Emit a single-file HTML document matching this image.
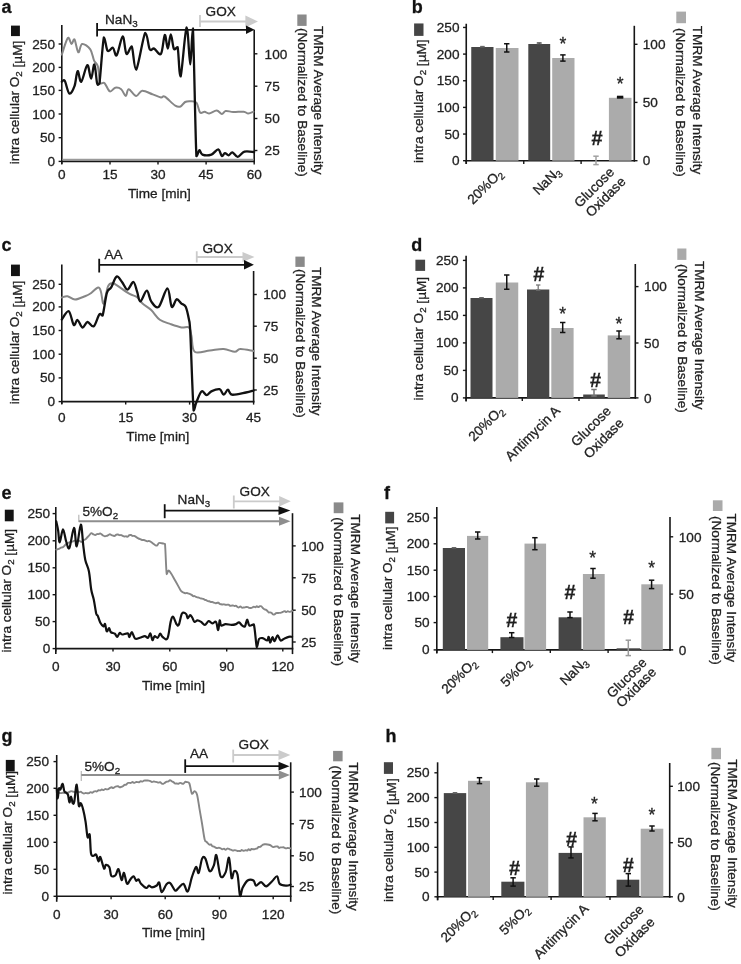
<!DOCTYPE html>
<html><head><meta charset="utf-8"><style>
html,body{margin:0;padding:0;background:#fff;width:741px;height:964px;overflow:hidden}
svg{display:block;font-family:"Liberation Sans", sans-serif;filter:blur(0.4px)}
text{stroke:#222;stroke-width:0.3px}
</style></head><body>
<svg width="741" height="964" viewBox="0 0 741 964">
<rect width="741" height="964" fill="#fff"/>
<text x="1.6" y="12.9" text-anchor="start" font-size="18" font-weight="bold" fill="#111" >a</text>
<text transform="translate(19.1,164.3) rotate(-90)" text-anchor="start" font-size="13.6" fill="#1e1e1e">intra cellular O<tspan font-size="9.79" dy="2.99">2</tspan><tspan dy="-2.99"></tspan> [µM]</text>
<rect x="11" y="25.6" width="8.9" height="10.5" fill="#141414"/>
<line x1="61.8" y1="25" x2="61.8" y2="163.9" stroke="#161616" stroke-width="1.6"/>
<line x1="58.6" y1="161.4" x2="61.8" y2="161.4" stroke="#161616" stroke-width="1.4"/>
<text x="55" y="165.97" text-anchor="end" font-size="13.6" font-weight="normal" fill="#1e1e1e" >0</text>
<line x1="58.6" y1="137.7" x2="61.8" y2="137.7" stroke="#161616" stroke-width="1.4"/>
<text x="55" y="142.27" text-anchor="end" font-size="13.6" font-weight="normal" fill="#1e1e1e" >50</text>
<line x1="58.6" y1="114" x2="61.8" y2="114" stroke="#161616" stroke-width="1.4"/>
<text x="55" y="118.57" text-anchor="end" font-size="13.6" font-weight="normal" fill="#1e1e1e" >100</text>
<line x1="58.6" y1="90.4" x2="61.8" y2="90.4" stroke="#161616" stroke-width="1.4"/>
<text x="55" y="94.97" text-anchor="end" font-size="13.6" font-weight="normal" fill="#1e1e1e" >150</text>
<line x1="58.6" y1="67.4" x2="61.8" y2="67.4" stroke="#161616" stroke-width="1.4"/>
<text x="55" y="71.97" text-anchor="end" font-size="13.6" font-weight="normal" fill="#1e1e1e" >200</text>
<line x1="58.6" y1="44" x2="61.8" y2="44" stroke="#161616" stroke-width="1.4"/>
<text x="55" y="48.57" text-anchor="end" font-size="13.6" font-weight="normal" fill="#1e1e1e" >250</text>
<line x1="61" y1="161.4" x2="255" y2="161.4" stroke="#161616" stroke-width="1.6"/>
<line x1="61.8" y1="161.4" x2="61.8" y2="164.4" stroke="#161616" stroke-width="1.4"/>
<line x1="110" y1="161.4" x2="110" y2="164.4" stroke="#161616" stroke-width="1.4"/>
<line x1="158" y1="161.4" x2="158" y2="164.4" stroke="#161616" stroke-width="1.4"/>
<line x1="206.1" y1="161.4" x2="206.1" y2="164.4" stroke="#161616" stroke-width="1.4"/>
<line x1="254.2" y1="161.4" x2="254.2" y2="164.4" stroke="#161616" stroke-width="1.4"/>
<text x="61.8" y="179.1" text-anchor="middle" font-size="13.6" font-weight="normal" fill="#1e1e1e" >0</text>
<text x="110" y="179.1" text-anchor="middle" font-size="13.6" font-weight="normal" fill="#1e1e1e" >15</text>
<text x="158" y="179.1" text-anchor="middle" font-size="13.6" font-weight="normal" fill="#1e1e1e" >30</text>
<text x="206.1" y="179.1" text-anchor="middle" font-size="13.6" font-weight="normal" fill="#1e1e1e" >45</text>
<text x="254.2" y="179.1" text-anchor="middle" font-size="13.6" font-weight="normal" fill="#1e1e1e" >60</text>
<text x="159.4" y="198.1" text-anchor="middle" font-size="13.6" font-weight="normal" fill="#1e1e1e" >Time [min]</text>
<line x1="254.2" y1="29.8" x2="254.2" y2="162.2" stroke="#161616" stroke-width="1.6"/>
<line x1="254.2" y1="150.5" x2="257.4" y2="150.5" stroke="#161616" stroke-width="1.4"/>
<text x="264.6" y="155.27" text-anchor="start" font-size="13.6" font-weight="normal" fill="#1e1e1e" >25</text>
<line x1="254.2" y1="118.5" x2="257.4" y2="118.5" stroke="#161616" stroke-width="1.4"/>
<text x="264.6" y="123.27" text-anchor="start" font-size="13.6" font-weight="normal" fill="#1e1e1e" >50</text>
<line x1="254.2" y1="86.2" x2="257.4" y2="86.2" stroke="#161616" stroke-width="1.4"/>
<text x="264.6" y="90.97" text-anchor="start" font-size="13.6" font-weight="normal" fill="#1e1e1e" >75</text>
<line x1="254.2" y1="53.8" x2="257.4" y2="53.8" stroke="#161616" stroke-width="1.4"/>
<text x="264.6" y="58.57" text-anchor="start" font-size="13.6" font-weight="normal" fill="#1e1e1e" >100</text>
<text transform="translate(314,25.9) rotate(90)" text-anchor="start" font-size="13.6" fill="#1e1e1e">TMRM Average Intensity</text>
<text transform="translate(297.5,28) rotate(90)" text-anchor="start" font-size="13.6" fill="#1e1e1e">(Normalized to Baseline)</text>
<rect x="297.3" y="14.5" width="9.3" height="11.4" fill="#8a8a8a"/>
<line x1="62.5" y1="159.6" x2="253.5" y2="159.6" stroke="#9a9a9a" stroke-width="1.6"/>
<line x1="200" y1="15" x2="200" y2="27" stroke="#cbcbcb" stroke-width="1.8"/>
<line x1="200" y1="21.5" x2="246.4" y2="21.5" stroke="#cbcbcb" stroke-width="1.8"/>
<polygon points="245.4,15.5 258,21.5 245.4,27.5" fill="#cbcbcb"/>
<line x1="97.1" y1="23" x2="97.1" y2="36.5" stroke="#111" stroke-width="1.8"/>
<line x1="97.1" y1="29.8" x2="247" y2="29.8" stroke="#111" stroke-width="1.8"/>
<polygon points="246,25.6 254.5,29.8 246,34" fill="#111"/>
<text x="105" y="23.9" text-anchor="start" font-size="13.6" font-weight="normal" fill="#1e1e1e" >NaN<tspan font-size="9.79" dy="2.99">3</tspan><tspan dy="-2.99"></tspan></text>
<text x="205.6" y="16.2" text-anchor="start" font-size="13.6" font-weight="normal" fill="#1e1e1e" >GOX</text>
<path d="M61.8,54.6 C62.8,51.83 66.18,39.77 67.8,38 C69.42,36.23 70.38,43.75 71.5,44 C72.62,44.25 73.37,38.12 74.5,39.5 C75.63,40.88 77.03,51.55 78.3,52.3 C79.57,53.05 80.1,44.5 82.1,44 C84.1,43.5 88.3,46.53 90.3,49.3 C92.3,52.07 92.83,57.72 94.1,60.6 C95.37,63.48 96.9,62.97 97.9,66.6 C98.9,70.23 98.98,79.63 100.1,82.4 C101.22,85.17 102.97,81.7 104.6,83.2 C106.23,84.7 108.13,90.65 109.9,91.4 C111.67,92.15 113.32,88.07 115.2,87.7 C117.08,87.33 119.45,87.83 121.2,89.2 C122.95,90.57 124.45,95.9 125.7,95.9 C126.95,95.9 126.95,89.2 128.7,89.2 C130.45,89.2 133.95,95.65 136.2,95.9 C138.45,96.15 139.45,90.95 142.2,90.7 C144.95,90.45 149.57,93.28 152.7,94.4 C155.83,95.52 158.98,97.02 161,97.4 C163.02,97.78 162.42,95.32 164.8,96.7 C167.18,98.08 172.67,104.07 175.3,105.7 C177.93,107.33 178.97,107.12 180.6,106.5 C182.23,105.88 183.48,102.88 185.1,102 C186.72,101.12 188.42,101.08 190.3,101.2 C192.18,101.32 194.77,100.82 196.4,102.7 C198.03,104.58 198.73,111 200.1,112.5 C201.47,114 203.1,111.53 204.6,111.7 C206.1,111.87 207.08,113.7 209.1,113.5 C211.12,113.3 214.57,110.42 216.7,110.5 C218.83,110.58 220.4,113.92 221.9,114 C223.4,114.08 223.82,111.33 225.7,111 C227.58,110.67 230.2,111.88 233.2,112 C236.2,112.12 241.2,111.45 243.7,111.7 C246.2,111.95 246.57,113.5 248.2,113.5 C249.83,113.5 252.62,112 253.5,111.7" fill="none" stroke="#868686" stroke-width="2.0" stroke-linejoin="round" stroke-linecap="round"/>
<path d="M61.8,81.7 C62.3,81.57 63.55,78.95 64.8,80.9 C66.05,82.85 67.68,92.52 69.3,93.4 C70.92,94.28 73.12,89.92 74.5,86.2 C75.88,82.48 76.47,71.85 77.6,71.1 C78.73,70.35 79.68,82.7 81.3,81.7 C82.92,80.7 85.67,65.62 87.3,65.1 C88.93,64.58 89.92,78.72 91.1,78.6 C92.28,78.48 93.4,63.63 94.4,64.4 C95.4,65.17 96.27,79.95 97.1,83.2 C97.93,86.45 98.27,83.9 99.4,83.9 C100.53,76.25 102.53,42.82 103.9,37.3 C105.27,37.3 106.1,49.05 107.6,50.8 C109.1,52.55 111.38,47.05 112.9,47.8 C114.42,48.55 115.07,57.18 116.7,55.3 C118.33,53.42 121.08,36.75 122.7,36.5 C124.32,36.25 124.9,52.17 126.4,53.8 C127.9,55.43 130.07,46.3 131.7,46.3 C133.33,48.93 133.95,69.6 136.2,69.6 C138.45,67.35 142.95,36.18 145.2,32.8 C147.45,32.8 148.2,46.67 149.7,49.3 C151.2,51.93 152.32,47.85 154.2,48.6 C156.08,49.35 159.23,56.07 161,53.8 C162.77,51.53 163.67,35.87 164.8,35 C165.93,34.13 166.8,48.72 167.8,48.6 C168.8,48.48 169.8,34.3 170.8,34.3 C171.8,34.3 172.67,46.47 173.8,48.6 C174.93,50.73 176.47,47.1 177.6,47.1 C178.73,51.73 179.1,76.4 180.6,76.4 C182.1,73.13 184.98,29.5 186.6,27.5 C188.22,27.5 189.25,64.27 190.3,64.4 C191.35,64.4 191.88,28.3 192.9,28.3 C193.92,43.58 195.32,135.8 196.4,156.1 C197.48,156.1 198.4,150.35 199.4,150.1 C200.4,149.85 200.4,153.85 202.4,154.6 C204.4,155.35 208.77,155.48 211.4,154.6 C214.03,153.72 216.45,149.05 218.2,149.3 C219.95,149.55 220.78,155.47 221.9,156.1 C223.02,156.73 223.77,153.23 224.9,153.1 C226.03,152.97 227.45,155.43 228.7,155.3 C229.95,155.17 230.9,152.05 232.4,152.3 C233.9,152.55 235.68,156.92 237.7,156.8 C239.72,156.68 241.75,152.4 244.5,151.6 C247.25,150.8 252.58,151.93 254.2,152" fill="none" stroke="#111" stroke-width="2.3" stroke-linejoin="round" stroke-linecap="round"/>
<text x="411.8" y="12.9" text-anchor="start" font-size="18" font-weight="bold" fill="#111" >b</text>
<text transform="translate(422.9,163) rotate(-90)" text-anchor="start" font-size="13.6" fill="#1e1e1e">intra cellular O<tspan font-size="9.79" dy="2.99">2</tspan><tspan dy="-2.99"></tspan> [µM]</text>
<rect x="414.1" y="23.45" width="9.4" height="12.45" fill="#454545"/>
<line x1="466.25" y1="23.75" x2="466.25" y2="161.5" stroke="#161616" stroke-width="1.6"/>
<line x1="463.05" y1="160.7" x2="466.25" y2="160.7" stroke="#161616" stroke-width="1.4"/>
<text x="459.5" y="165.27" text-anchor="end" font-size="13.6" font-weight="normal" fill="#1e1e1e" >0</text>
<line x1="463.05" y1="134.05" x2="466.25" y2="134.05" stroke="#161616" stroke-width="1.4"/>
<text x="459.5" y="138.62" text-anchor="end" font-size="13.6" font-weight="normal" fill="#1e1e1e" >50</text>
<line x1="463.05" y1="107.4" x2="466.25" y2="107.4" stroke="#161616" stroke-width="1.4"/>
<text x="459.5" y="111.97" text-anchor="end" font-size="13.6" font-weight="normal" fill="#1e1e1e" >100</text>
<line x1="463.05" y1="80.75" x2="466.25" y2="80.75" stroke="#161616" stroke-width="1.4"/>
<text x="459.5" y="85.32" text-anchor="end" font-size="13.6" font-weight="normal" fill="#1e1e1e" >150</text>
<line x1="463.05" y1="54.1" x2="466.25" y2="54.1" stroke="#161616" stroke-width="1.4"/>
<text x="459.5" y="58.67" text-anchor="end" font-size="13.6" font-weight="normal" fill="#1e1e1e" >200</text>
<line x1="463.05" y1="27.45" x2="466.25" y2="27.45" stroke="#161616" stroke-width="1.4"/>
<text x="459.5" y="32.02" text-anchor="end" font-size="13.6" font-weight="normal" fill="#1e1e1e" >250</text>
<line x1="465.45" y1="160.7" x2="635.1" y2="160.7" stroke="#161616" stroke-width="1.6"/>
<line x1="466.25" y1="160.7" x2="466.25" y2="163.9" stroke="#161616" stroke-width="1.4"/>
<line x1="523.75" y1="160.7" x2="523.75" y2="163.9" stroke="#161616" stroke-width="1.4"/>
<line x1="581.1" y1="160.7" x2="581.1" y2="163.9" stroke="#161616" stroke-width="1.4"/>
<line x1="466.25" y1="160.7" x2="466.25" y2="164" stroke="#161616" stroke-width="1.6"/>
<line x1="634.3" y1="25.8" x2="634.3" y2="161.5" stroke="#161616" stroke-width="1.6"/>
<line x1="634.3" y1="160.7" x2="637.5" y2="160.7" stroke="#161616" stroke-width="1.4"/>
<text x="642.8" y="165.47" text-anchor="start" font-size="13.6" font-weight="normal" fill="#1e1e1e" >0</text>
<line x1="634.3" y1="102.4" x2="637.5" y2="102.4" stroke="#161616" stroke-width="1.4"/>
<text x="642.8" y="107.17" text-anchor="start" font-size="13.6" font-weight="normal" fill="#1e1e1e" >50</text>
<line x1="634.3" y1="44.3" x2="637.5" y2="44.3" stroke="#161616" stroke-width="1.4"/>
<text x="642.8" y="49.07" text-anchor="start" font-size="13.6" font-weight="normal" fill="#1e1e1e" >100</text>
<text transform="translate(692.6,25.8) rotate(90)" text-anchor="start" font-size="13.6" fill="#1e1e1e">TMRM Average Intensity</text>
<text transform="translate(675.6,28) rotate(90)" text-anchor="start" font-size="13.6" fill="#1e1e1e">(Normalized to Baseline)</text>
<rect x="676.3" y="11.6" width="9.7" height="11.6" fill="#aaaaaa"/>
<rect x="471.25" y="47" width="22.25" height="113.7" fill="#464646"/>
<line x1="482.4" y1="46.4" x2="482.4" y2="47" stroke="#666" stroke-width="1.1"/>
<line x1="480.2" y1="46.4" x2="484.6" y2="46.4" stroke="#666" stroke-width="1.1"/>
<line x1="480.2" y1="47" x2="484.6" y2="47" stroke="#666" stroke-width="1.1"/>
<rect x="495.75" y="48" width="22.75" height="112.7" fill="#ababab"/>
<line x1="506.75" y1="43.75" x2="506.75" y2="52" stroke="#111" stroke-width="1.5"/>
<line x1="504.05" y1="43.75" x2="509.45" y2="43.75" stroke="#111" stroke-width="1.5"/>
<line x1="504.05" y1="52" x2="509.45" y2="52" stroke="#111" stroke-width="1.5"/>
<rect x="528.3" y="44" width="21.9" height="116.7" fill="#464646"/>
<line x1="539.2" y1="42.8" x2="539.2" y2="44" stroke="#555" stroke-width="1.2"/>
<line x1="536.8" y1="42.8" x2="541.6" y2="42.8" stroke="#555" stroke-width="1.2"/>
<line x1="536.8" y1="44" x2="541.6" y2="44" stroke="#555" stroke-width="1.2"/>
<rect x="552.2" y="58" width="22.3" height="102.7" fill="#ababab"/>
<line x1="562.9" y1="54.9" x2="562.9" y2="61.1" stroke="#111" stroke-width="1.5"/>
<line x1="560.2" y1="54.9" x2="565.6" y2="54.9" stroke="#111" stroke-width="1.5"/>
<line x1="560.2" y1="61.1" x2="565.6" y2="61.1" stroke="#111" stroke-width="1.5"/>
<text x="562.9" y="50.3" text-anchor="middle" font-size="17.5" font-weight="normal" fill="#1e1e1e" >*</text>
<line x1="596" y1="156.2" x2="596" y2="164.6" stroke="#a0a0a0" stroke-width="1.5"/>
<line x1="593.3" y1="156.2" x2="598.7" y2="156.2" stroke="#a0a0a0" stroke-width="1.5"/>
<line x1="593.3" y1="164.6" x2="598.7" y2="164.6" stroke="#a0a0a0" stroke-width="1.5"/>
<text x="597" y="145.4" text-anchor="middle" font-size="20" font-weight="bold" fill="#1e1e1e" >#</text>
<rect x="608.9" y="97.8" width="22.6" height="62.9" fill="#ababab"/>
<line x1="620.1" y1="96.6" x2="620.1" y2="97.8" stroke="#111" stroke-width="1.8"/>
<line x1="616.9" y1="96.6" x2="623.3" y2="96.6" stroke="#111" stroke-width="1.8"/>
<line x1="616.9" y1="97.8" x2="623.3" y2="97.8" stroke="#111" stroke-width="1.8"/>
<text x="620.1" y="90.3" text-anchor="middle" font-size="17.5" font-weight="normal" fill="#1e1e1e" >*</text>
<text transform="translate(503.5,174.5) rotate(-45)" text-anchor="end" font-size="13.6" fill="#1e1e1e">20%O<tspan font-size="9.79" dy="2.99">2</tspan><tspan dy="-2.99"></tspan></text>
<text transform="translate(561.5,172.5) rotate(-45)" text-anchor="end" font-size="13.6" fill="#1e1e1e">NaN<tspan font-size="9.79" dy="2.99">3</tspan><tspan dy="-2.99"></tspan></text>
<text transform="translate(615,173) rotate(-45)" text-anchor="end" font-size="13.6" fill="#1e1e1e">Glucose</text>
<text transform="translate(626.5,182.5) rotate(-45)" text-anchor="end" font-size="13.6" fill="#1e1e1e">Oxidase</text>
<text x="1.6" y="251.3" text-anchor="start" font-size="18" font-weight="bold" fill="#111" >c</text>
<text transform="translate(19.1,404.3) rotate(-90)" text-anchor="start" font-size="13.6" fill="#1e1e1e">intra cellular O<tspan font-size="9.79" dy="2.99">2</tspan><tspan dy="-2.99"></tspan> [µM]</text>
<rect x="11" y="264.6" width="8.9" height="11.5" fill="#141414"/>
<line x1="61.8" y1="264.5" x2="61.8" y2="404.1" stroke="#161616" stroke-width="1.6"/>
<line x1="58.6" y1="401.6" x2="61.8" y2="401.6" stroke="#161616" stroke-width="1.4"/>
<text x="55" y="406.17" text-anchor="end" font-size="13.6" font-weight="normal" fill="#1e1e1e" >0</text>
<line x1="58.6" y1="377.9" x2="61.8" y2="377.9" stroke="#161616" stroke-width="1.4"/>
<text x="55" y="382.47" text-anchor="end" font-size="13.6" font-weight="normal" fill="#1e1e1e" >50</text>
<line x1="58.6" y1="354.2" x2="61.8" y2="354.2" stroke="#161616" stroke-width="1.4"/>
<text x="55" y="358.77" text-anchor="end" font-size="13.6" font-weight="normal" fill="#1e1e1e" >100</text>
<line x1="58.6" y1="330.5" x2="61.8" y2="330.5" stroke="#161616" stroke-width="1.4"/>
<text x="55" y="335.07" text-anchor="end" font-size="13.6" font-weight="normal" fill="#1e1e1e" >150</text>
<line x1="58.6" y1="306.9" x2="61.8" y2="306.9" stroke="#161616" stroke-width="1.4"/>
<text x="55" y="311.47" text-anchor="end" font-size="13.6" font-weight="normal" fill="#1e1e1e" >200</text>
<line x1="58.6" y1="284.3" x2="61.8" y2="284.3" stroke="#161616" stroke-width="1.4"/>
<text x="55" y="288.87" text-anchor="end" font-size="13.6" font-weight="normal" fill="#1e1e1e" >250</text>
<line x1="61" y1="401.6" x2="254.4" y2="401.6" stroke="#161616" stroke-width="1.6"/>
<line x1="61.8" y1="401.6" x2="61.8" y2="404.6" stroke="#161616" stroke-width="1.4"/>
<line x1="125.7" y1="401.6" x2="125.7" y2="404.6" stroke="#161616" stroke-width="1.4"/>
<line x1="189.6" y1="401.6" x2="189.6" y2="404.6" stroke="#161616" stroke-width="1.4"/>
<line x1="253.6" y1="401.6" x2="253.6" y2="404.6" stroke="#161616" stroke-width="1.4"/>
<text x="61.8" y="422.1" text-anchor="middle" font-size="13.6" font-weight="normal" fill="#1e1e1e" >0</text>
<text x="125.7" y="422.1" text-anchor="middle" font-size="13.6" font-weight="normal" fill="#1e1e1e" >15</text>
<text x="189.6" y="422.1" text-anchor="middle" font-size="13.6" font-weight="normal" fill="#1e1e1e" >30</text>
<text x="253.6" y="422.1" text-anchor="middle" font-size="13.6" font-weight="normal" fill="#1e1e1e" >45</text>
<text x="157.8" y="441" text-anchor="middle" font-size="13.6" font-weight="normal" fill="#1e1e1e" >Time [min]</text>
<line x1="253.6" y1="271" x2="253.6" y2="402.4" stroke="#161616" stroke-width="1.6"/>
<line x1="253.6" y1="390" x2="256.8" y2="390" stroke="#161616" stroke-width="1.4"/>
<text x="263.3" y="394.77" text-anchor="start" font-size="13.6" font-weight="normal" fill="#1e1e1e" >25</text>
<line x1="253.6" y1="358.2" x2="256.8" y2="358.2" stroke="#161616" stroke-width="1.4"/>
<text x="263.3" y="362.97" text-anchor="start" font-size="13.6" font-weight="normal" fill="#1e1e1e" >50</text>
<line x1="253.6" y1="326.2" x2="256.8" y2="326.2" stroke="#161616" stroke-width="1.4"/>
<text x="263.3" y="330.97" text-anchor="start" font-size="13.6" font-weight="normal" fill="#1e1e1e" >75</text>
<line x1="253.6" y1="294.5" x2="256.8" y2="294.5" stroke="#161616" stroke-width="1.4"/>
<text x="263.3" y="299.27" text-anchor="start" font-size="13.6" font-weight="normal" fill="#1e1e1e" >100</text>
<text transform="translate(312.2,266.9) rotate(90)" text-anchor="start" font-size="13.6" fill="#1e1e1e">TMRM Average Intensity</text>
<text transform="translate(295.6,269) rotate(90)" text-anchor="start" font-size="13.6" fill="#1e1e1e">(Normalized to Baseline)</text>
<rect x="295.4" y="256.6" width="9.3" height="10.3" fill="#8a8a8a"/>
<line x1="196.75" y1="251.25" x2="196.75" y2="262.5" stroke="#cbcbcb" stroke-width="1.8"/>
<line x1="196.75" y1="257" x2="243.5" y2="257" stroke="#cbcbcb" stroke-width="1.8"/>
<polygon points="242.5,252 254.5,257 242.5,262" fill="#cbcbcb"/>
<line x1="99.2" y1="258.75" x2="99.2" y2="272.5" stroke="#111" stroke-width="1.8"/>
<line x1="99.2" y1="264.8" x2="245" y2="264.8" stroke="#111" stroke-width="1.8"/>
<polygon points="244,260 253.9,264.8 244,269.6" fill="#111"/>
<text x="104.5" y="259" text-anchor="start" font-size="13.6" font-weight="normal" fill="#1e1e1e" >AA</text>
<text x="202.5" y="252.8" text-anchor="start" font-size="13.6" font-weight="normal" fill="#1e1e1e" >GOX</text>
<path d="M61.75,297.5 C62.71,297.29 65.29,295.92 67.5,296.25 C69.71,296.58 72.08,299.5 75,299.5 C77.92,299.5 82.5,297.21 85,296.25 C87.5,295.29 87.8,295.23 90,293.75 C92.2,292.27 96.37,287.69 98.2,287.4 C100.03,287.11 100.1,289.3 101,292 C101.9,294.7 102.43,304.55 103.6,303.6 C104.77,302.65 106.55,289.72 108,286.3 C109.45,282.88 110.87,283.28 112.3,283.1 C113.73,282.92 113.72,283.4 116.6,285.2 C119.48,287 126.18,291.92 129.6,293.9 C133.02,295.88 134.95,295.48 137.1,297.1 C139.25,298.72 140.15,301.43 142.5,303.6 C144.85,305.77 148.32,307.4 151.2,310.1 C154.08,312.8 156.57,317.47 159.8,319.8 C163.03,322.13 167,322.83 170.6,324.1 C174.2,325.37 178.33,326.85 181.4,327.4 C184.47,327.95 187.32,325.97 189,327.4 C190.68,328.83 190.55,331.93 191.5,336 C192.45,340.07 191.63,349.4 194.7,351.8 C197.77,354.2 205.07,350.87 209.9,350.4 C214.73,349.93 219.55,348.77 223.7,349 C227.85,349.23 232.03,351.8 234.8,351.8 C237.57,351.8 237.17,349.13 240.3,349 C243.43,348.87 251.38,350.67 253.6,351" fill="none" stroke="#868686" stroke-width="2.0" stroke-linejoin="round" stroke-linecap="round"/>
<path d="M61.75,319.5 C62.92,318.12 66.75,310.33 68.75,311.25 C70.75,312.17 72.29,323.54 73.75,325 C75.21,326.46 76.04,319.58 77.5,320 C78.96,320.42 80.83,327.17 82.5,327.5 C84.17,327.83 85.62,322.21 87.5,322 C89.38,321.79 91.78,327.52 93.75,326.25 C95.72,324.98 97.83,316.19 99.3,314.4 C100.77,312.61 101.33,315.5 102.6,315.5 C103.87,311.9 105.47,297.48 106.9,292.8 C108.33,288.12 109.58,290.1 111.2,287.4 C112.82,284.7 114.8,277.5 116.6,276.6 C118.4,275.7 120.2,279.83 122,282 C123.8,284.17 125.5,289.6 127.4,289.6 C129.3,289.6 131.78,281.65 133.4,282 C135.02,282.35 135.93,288.47 137.1,291.7 C138.27,294.93 138.78,301.58 140.4,301.4 C142.02,301.22 145,290.6 146.8,290.6 C148.6,290.6 149.22,298.7 151.2,301.4 C153.18,304.1 156,308.95 158.7,306.8 C161.4,304.65 165.23,288.5 167.4,288.5 C169.57,288.5 170.17,305 171.7,306.8 C173.23,308.6 174.98,299.83 176.6,299.3 C178.22,298.77 179.88,302.35 181.4,303.6 C182.92,304.85 184.43,304.1 185.7,306.8 C186.97,309.5 188.25,315.93 189,319.8 C189.75,323.67 189.43,319.8 190.2,330 C190.97,345.12 192.62,398.33 193.6,410.5 C194.58,410.5 194.77,406.18 196.1,403 C197.43,399.82 199.85,392.7 201.6,391.4 C203.35,390.1 204.98,395.2 206.6,395.2 C208.22,395.2 209.13,392.4 211.3,391.4 C213.47,390.4 217.53,388.65 219.6,389.2 C221.67,389.75 222.32,394.62 223.7,394.7 C225.08,394.78 226.52,389.7 227.9,389.7 C229.28,389.7 229,394.23 232,394.7 C235,395.17 242.3,393.2 245.9,392.5 C249.5,391.8 252.32,390.83 253.6,390.5" fill="none" stroke="#111" stroke-width="2.3" stroke-linejoin="round" stroke-linecap="round"/>
<text x="411.2" y="250.9" text-anchor="start" font-size="18" font-weight="bold" fill="#111" >d</text>
<text transform="translate(422.9,400.5) rotate(-90)" text-anchor="start" font-size="13.6" fill="#1e1e1e">intra cellular O<tspan font-size="9.79" dy="2.99">2</tspan><tspan dy="-2.99"></tspan> [µM]</text>
<rect x="415.4" y="259.7" width="9.7" height="11.2" fill="#454545"/>
<line x1="466.1" y1="255.8" x2="466.1" y2="398.7" stroke="#161616" stroke-width="1.6"/>
<line x1="462.9" y1="397.9" x2="466.1" y2="397.9" stroke="#161616" stroke-width="1.4"/>
<text x="458.6" y="402.47" text-anchor="end" font-size="13.6" font-weight="normal" fill="#1e1e1e" >0</text>
<line x1="462.9" y1="370.4" x2="466.1" y2="370.4" stroke="#161616" stroke-width="1.4"/>
<text x="458.6" y="374.97" text-anchor="end" font-size="13.6" font-weight="normal" fill="#1e1e1e" >50</text>
<line x1="462.9" y1="342.9" x2="466.1" y2="342.9" stroke="#161616" stroke-width="1.4"/>
<text x="458.6" y="347.47" text-anchor="end" font-size="13.6" font-weight="normal" fill="#1e1e1e" >100</text>
<line x1="462.9" y1="315.4" x2="466.1" y2="315.4" stroke="#161616" stroke-width="1.4"/>
<text x="458.6" y="319.97" text-anchor="end" font-size="13.6" font-weight="normal" fill="#1e1e1e" >150</text>
<line x1="462.9" y1="287.9" x2="466.1" y2="287.9" stroke="#161616" stroke-width="1.4"/>
<text x="458.6" y="292.47" text-anchor="end" font-size="13.6" font-weight="normal" fill="#1e1e1e" >200</text>
<line x1="462.9" y1="260.4" x2="466.1" y2="260.4" stroke="#161616" stroke-width="1.4"/>
<text x="458.6" y="264.97" text-anchor="end" font-size="13.6" font-weight="normal" fill="#1e1e1e" >250</text>
<line x1="465.3" y1="397.9" x2="636.1" y2="397.9" stroke="#161616" stroke-width="1.6"/>
<line x1="466.1" y1="397.9" x2="466.1" y2="401.1" stroke="#161616" stroke-width="1.4"/>
<line x1="522.3" y1="397.9" x2="522.3" y2="401.1" stroke="#161616" stroke-width="1.4"/>
<line x1="579" y1="397.9" x2="579" y2="401.1" stroke="#161616" stroke-width="1.4"/>
<line x1="466.1" y1="397.9" x2="466.1" y2="401.5" stroke="#161616" stroke-width="1.6"/>
<line x1="635.3" y1="264" x2="635.3" y2="398.7" stroke="#161616" stroke-width="1.6"/>
<line x1="635.3" y1="397.9" x2="638.5" y2="397.9" stroke="#161616" stroke-width="1.4"/>
<text x="644.1" y="402.67" text-anchor="start" font-size="13.6" font-weight="normal" fill="#1e1e1e" >0</text>
<line x1="635.3" y1="343" x2="638.5" y2="343" stroke="#161616" stroke-width="1.4"/>
<text x="644.1" y="347.77" text-anchor="start" font-size="13.6" font-weight="normal" fill="#1e1e1e" >50</text>
<line x1="635.3" y1="286.6" x2="638.5" y2="286.6" stroke="#161616" stroke-width="1.4"/>
<text x="644.1" y="291.37" text-anchor="start" font-size="13.6" font-weight="normal" fill="#1e1e1e" >100</text>
<text transform="translate(694.7,260.9) rotate(90)" text-anchor="start" font-size="13.6" fill="#1e1e1e">TMRM Average Intensity</text>
<text transform="translate(677.7,264) rotate(90)" text-anchor="start" font-size="13.6" fill="#1e1e1e">(Normalized to Baseline)</text>
<rect x="677.3" y="248.5" width="9.1" height="11.4" fill="#aaaaaa"/>
<rect x="470.5" y="298" width="22" height="99.9" fill="#464646"/>
<line x1="481.5" y1="297.6" x2="481.5" y2="298" stroke="#666" stroke-width="1.1"/>
<line x1="479.3" y1="297.6" x2="483.7" y2="297.6" stroke="#666" stroke-width="1.1"/>
<line x1="479.3" y1="298" x2="483.7" y2="298" stroke="#666" stroke-width="1.1"/>
<rect x="495.75" y="282.5" width="22.5" height="115.4" fill="#ababab"/>
<line x1="506.75" y1="275" x2="506.75" y2="289.25" stroke="#111" stroke-width="1.5"/>
<line x1="504.05" y1="275" x2="509.45" y2="275" stroke="#111" stroke-width="1.5"/>
<line x1="504.05" y1="289.25" x2="509.45" y2="289.25" stroke="#111" stroke-width="1.5"/>
<rect x="527" y="289.5" width="22.3" height="108.4" fill="#464646"/>
<line x1="538.2" y1="285" x2="538.2" y2="290" stroke="#777" stroke-width="1.3"/>
<line x1="536" y1="285" x2="540.4" y2="285" stroke="#777" stroke-width="1.3"/>
<line x1="536" y1="290" x2="540.4" y2="290" stroke="#777" stroke-width="1.3"/>
<text x="538.75" y="281.2" text-anchor="middle" font-size="20" font-weight="bold" fill="#1e1e1e" >#</text>
<rect x="551.3" y="328" width="22.3" height="69.9" fill="#ababab"/>
<line x1="562.7" y1="322.5" x2="562.7" y2="332.5" stroke="#111" stroke-width="1.5"/>
<line x1="560" y1="322.5" x2="565.4" y2="322.5" stroke="#111" stroke-width="1.5"/>
<line x1="560" y1="332.5" x2="565.4" y2="332.5" stroke="#111" stroke-width="1.5"/>
<text x="562.7" y="320.3" text-anchor="middle" font-size="17.5" font-weight="normal" fill="#1e1e1e" >*</text>
<rect x="583.2" y="394.5" width="21.6" height="3.4" fill="#464646"/>
<line x1="594" y1="389.5" x2="594" y2="396" stroke="#777" stroke-width="1.5"/>
<line x1="591.3" y1="389.5" x2="596.7" y2="389.5" stroke="#777" stroke-width="1.5"/>
<line x1="591.3" y1="396" x2="596.7" y2="396" stroke="#777" stroke-width="1.5"/>
<text x="595.5" y="387.4" text-anchor="middle" font-size="20" font-weight="bold" fill="#1e1e1e" >#</text>
<rect x="607.7" y="335.4" width="22.5" height="62.5" fill="#ababab"/>
<line x1="619" y1="331" x2="619" y2="338.8" stroke="#111" stroke-width="1.5"/>
<line x1="616.3" y1="331" x2="621.7" y2="331" stroke="#111" stroke-width="1.5"/>
<line x1="616.3" y1="338.8" x2="621.7" y2="338.8" stroke="#111" stroke-width="1.5"/>
<text x="619" y="329.6" text-anchor="middle" font-size="17.5" font-weight="normal" fill="#1e1e1e" >*</text>
<text transform="translate(504.5,411.5) rotate(-45)" text-anchor="end" font-size="13.6" fill="#1e1e1e">20%O<tspan font-size="9.79" dy="2.99">2</tspan><tspan dy="-2.99"></tspan></text>
<text transform="translate(561,411.5) rotate(-45)" text-anchor="end" font-size="13.6" fill="#1e1e1e">Antimycin A</text>
<text transform="translate(611.8,412) rotate(-45)" text-anchor="end" font-size="13.6" fill="#1e1e1e">Glucose</text>
<text transform="translate(624.5,424) rotate(-45)" text-anchor="end" font-size="13.6" fill="#1e1e1e">Oxidase</text>
<text x="1.6" y="498.5" text-anchor="start" font-size="18" font-weight="bold" fill="#111" >e</text>
<text transform="translate(11.4,652.5) rotate(-90)" text-anchor="start" font-size="13.6" fill="#1e1e1e">intra cellular O<tspan font-size="9.79" dy="2.99">2</tspan><tspan dy="-2.99"></tspan> [µM]</text>
<rect x="4.8" y="509.7" width="8.9" height="11.6" fill="#141414"/>
<line x1="55.8" y1="506.9" x2="55.8" y2="654.1" stroke="#161616" stroke-width="1.6"/>
<line x1="52.6" y1="648.6" x2="55.8" y2="648.6" stroke="#161616" stroke-width="1.4"/>
<text x="50.2" y="653.17" text-anchor="end" font-size="13.6" font-weight="normal" fill="#1e1e1e" >0</text>
<line x1="52.6" y1="621.6" x2="55.8" y2="621.6" stroke="#161616" stroke-width="1.4"/>
<text x="50.2" y="626.17" text-anchor="end" font-size="13.6" font-weight="normal" fill="#1e1e1e" >50</text>
<line x1="52.6" y1="594.7" x2="55.8" y2="594.7" stroke="#161616" stroke-width="1.4"/>
<text x="50.2" y="599.27" text-anchor="end" font-size="13.6" font-weight="normal" fill="#1e1e1e" >100</text>
<line x1="52.6" y1="567.8" x2="55.8" y2="567.8" stroke="#161616" stroke-width="1.4"/>
<text x="50.2" y="572.37" text-anchor="end" font-size="13.6" font-weight="normal" fill="#1e1e1e" >150</text>
<line x1="52.6" y1="540.8" x2="55.8" y2="540.8" stroke="#161616" stroke-width="1.4"/>
<text x="50.2" y="545.37" text-anchor="end" font-size="13.6" font-weight="normal" fill="#1e1e1e" >200</text>
<line x1="52.6" y1="513.6" x2="55.8" y2="513.6" stroke="#161616" stroke-width="1.4"/>
<text x="50.2" y="518.17" text-anchor="end" font-size="13.6" font-weight="normal" fill="#1e1e1e" >250</text>
<line x1="55" y1="648.6" x2="293.3" y2="648.6" stroke="#161616" stroke-width="1.6"/>
<line x1="55.8" y1="648.6" x2="55.8" y2="651.6" stroke="#161616" stroke-width="1.4"/>
<line x1="113" y1="648.6" x2="113" y2="651.6" stroke="#161616" stroke-width="1.4"/>
<line x1="169.8" y1="648.6" x2="169.8" y2="651.6" stroke="#161616" stroke-width="1.4"/>
<line x1="226.7" y1="648.6" x2="226.7" y2="651.6" stroke="#161616" stroke-width="1.4"/>
<line x1="282.8" y1="648.6" x2="282.8" y2="651.6" stroke="#161616" stroke-width="1.4"/>
<text x="55.8" y="670.9" text-anchor="middle" font-size="13.6" font-weight="normal" fill="#1e1e1e" >0</text>
<text x="113" y="670.9" text-anchor="middle" font-size="13.6" font-weight="normal" fill="#1e1e1e" >30</text>
<text x="169.8" y="670.9" text-anchor="middle" font-size="13.6" font-weight="normal" fill="#1e1e1e" >60</text>
<text x="226.7" y="670.9" text-anchor="middle" font-size="13.6" font-weight="normal" fill="#1e1e1e" >90</text>
<text x="282.8" y="670.9" text-anchor="middle" font-size="13.6" font-weight="normal" fill="#1e1e1e" >120</text>
<text x="173.5" y="690.2" text-anchor="middle" font-size="13.6" font-weight="normal" fill="#1e1e1e" >Time [min]</text>
<line x1="292.5" y1="513.2" x2="292.5" y2="654.1" stroke="#161616" stroke-width="1.6"/>
<line x1="292.5" y1="642" x2="295.7" y2="642" stroke="#161616" stroke-width="1.4"/>
<text x="301.2" y="646.77" text-anchor="start" font-size="13.6" font-weight="normal" fill="#1e1e1e" >25</text>
<line x1="292.5" y1="610.2" x2="295.7" y2="610.2" stroke="#161616" stroke-width="1.4"/>
<text x="301.2" y="614.97" text-anchor="start" font-size="13.6" font-weight="normal" fill="#1e1e1e" >50</text>
<line x1="292.5" y1="577.8" x2="295.7" y2="577.8" stroke="#161616" stroke-width="1.4"/>
<text x="301.2" y="582.57" text-anchor="start" font-size="13.6" font-weight="normal" fill="#1e1e1e" >75</text>
<line x1="292.5" y1="545.9" x2="295.7" y2="545.9" stroke="#161616" stroke-width="1.4"/>
<text x="301.2" y="550.67" text-anchor="start" font-size="13.6" font-weight="normal" fill="#1e1e1e" >100</text>
<text transform="translate(350.9,514.2) rotate(90)" text-anchor="start" font-size="13.6" fill="#1e1e1e">TMRM Average Intensity</text>
<text transform="translate(333.7,517.3) rotate(90)" text-anchor="start" font-size="13.6" fill="#1e1e1e">(Normalized to Baseline)</text>
<rect x="333.7" y="502.4" width="9.7" height="10.8" fill="#8a8a8a"/>
<line x1="233.8" y1="495.5" x2="233.8" y2="508.5" stroke="#cbcbcb" stroke-width="1.8"/>
<line x1="233.8" y1="501.3" x2="280.2" y2="501.3" stroke="#cbcbcb" stroke-width="1.8"/>
<polygon points="279.2,496.1 290.8,501.3 279.2,506.5" fill="#cbcbcb"/>
<line x1="164.7" y1="504.2" x2="164.7" y2="518.2" stroke="#111" stroke-width="1.8"/>
<line x1="164.7" y1="510.6" x2="279.5" y2="510.6" stroke="#111" stroke-width="1.8"/>
<polygon points="278.5,506.2 290.4,510.6 278.5,515" fill="#111"/>
<line x1="78.8" y1="514.8" x2="78.8" y2="522" stroke="#bdbdbd" stroke-width="1.3"/>
<line x1="78.8" y1="521.3" x2="280" y2="521.3" stroke="#8e8e8e" stroke-width="2.1"/>
<polygon points="279,516.8 290.5,521.3 279,525.8" fill="#8e8e8e"/>
<text x="177.6" y="503.7" text-anchor="start" font-size="13.6" font-weight="normal" fill="#1e1e1e" >NaN<tspan font-size="9.79" dy="2.99">3</tspan><tspan dy="-2.99"></tspan></text>
<text x="239.6" y="495.5" text-anchor="start" font-size="13.6" font-weight="normal" fill="#1e1e1e" >GOX</text>
<text x="82.4" y="516.4" text-anchor="start" font-size="13.6" font-weight="normal" fill="#1e1e1e" >5%O<tspan font-size="9.79" dy="2.99">2</tspan><tspan dy="-2.99"></tspan></text>
<path d="M56.2,549.6 C56.65,549.47 58.11,549.13 58.9,548.8 C59.69,548.47 60.27,547.9 60.95,547.63 C61.63,547.37 62.39,547.53 63,547.2 C63.61,546.87 64.07,546.2 64.6,545.66 C65.13,545.13 65.66,544.45 66.2,544 C66.74,543.55 67.29,543.24 67.83,542.98 C68.38,542.73 68.92,542.73 69.47,542.48 C70.01,542.23 70.59,541.64 71.1,541.5 C71.61,541.36 72.04,541.75 72.51,541.64 C72.98,541.52 73.45,540.97 73.92,540.82 C74.4,540.66 74.87,540.54 75.34,540.71 C75.81,540.87 76.28,541.78 76.75,541.82 C77.22,541.87 77.69,541.13 78.16,540.98 C78.63,540.82 79.1,540.74 79.58,540.9 C80.05,541.06 80.52,541.88 80.99,541.93 C81.46,541.98 81.9,541.53 82.4,541.2 C82.9,540.87 83.47,540.26 84,539.93 C84.53,539.59 85.07,539.61 85.6,539.2 C86.13,538.8 86.59,538.16 87.2,537.5 C87.81,536.84 88.57,536 89.25,535.27 C89.93,534.53 90.62,533.26 91.3,533.1 C91.97,532.94 92.63,533.96 93.3,534.29 C93.97,534.63 94.69,535.14 95.3,535.1 C95.91,535.06 96.39,534.2 96.93,534.04 C97.48,533.89 98.02,534.26 98.57,534.16 C99.11,534.05 99.46,533.18 100.2,533.4 C100.94,533.62 102.22,535.03 103,535.5 C103.78,535.97 104.23,536.15 104.85,536.22 C105.47,536.28 106.12,536.08 106.7,535.9 C107.28,535.72 107.77,535.4 108.3,535.13 C108.83,534.87 109.36,534.29 109.9,534.3 C110.44,534.31 110.99,534.95 111.53,535.17 C112.08,535.39 112.62,535.49 113.17,535.61 C113.71,535.73 114.26,536.07 114.8,535.9 C115.34,535.73 115.87,534.82 116.4,534.59 C116.93,534.36 117.46,534.4 118,534.5 C118.54,534.6 119.1,535.06 119.65,535.16 C120.2,535.26 120.76,534.97 121.3,535.1 C121.84,535.23 122.37,535.69 122.9,535.93 C123.43,536.16 123.97,536.43 124.5,536.5 C125.03,536.57 125.57,536.29 126.1,536.32 C126.63,536.36 127.16,536.89 127.7,536.7 C128.24,536.51 128.8,535.48 129.35,535.19 C129.9,534.91 130.46,534.87 131,535 C131.54,535.13 132.07,535.81 132.6,535.96 C133.13,536.11 133.59,535.72 134.2,535.9 C134.81,536.08 135.57,536.66 136.25,537.06 C136.93,537.46 137.65,537.95 138.3,538.3 C138.95,538.65 139.54,538.9 140.17,539.17 C140.79,539.45 141.41,539.83 142.03,539.96 C142.66,540.1 143.32,539.88 143.9,540 C144.48,540.12 144.98,540.45 145.53,540.67 C146.07,540.9 146.61,541.29 147.15,541.34 C147.69,541.39 148.23,540.95 148.78,540.98 C149.32,541 149.7,541.08 150.4,541.5 C151.1,541.92 152.24,542.92 153,543.5 C153.76,544.08 154.3,544.62 154.95,544.97 C155.6,545.32 156.22,545.93 156.9,545.6 C157.58,545.27 158.2,543.4 159,543 C159.8,542.6 160.97,543.11 161.7,543.2 C162.42,543.29 162.8,543.39 163.35,543.52 C163.9,543.66 164.44,543.52 165,544 C165.56,549.11 166.02,569.75 166.7,574.2 C167.38,574.2 167.72,569.7 169.1,570.7 C170.48,571.7 173.12,576.98 175,580.2 C176.88,583.42 179.23,588.09 180.4,590 C181.57,591.91 181.49,591.23 182.03,591.68 C182.58,592.12 183.12,592.41 183.67,592.66 C184.21,592.92 184.76,593.13 185.3,593.2 C185.84,593.27 186.37,593 186.9,593.06 C187.43,593.12 187.97,593.37 188.5,593.54 C189.03,593.71 189.57,593.85 190.1,594.08 C190.63,594.31 191.2,594.55 191.7,594.9 C192.2,595.25 192.65,595.98 193.12,596.18 C193.6,596.37 194.08,595.93 194.55,596.06 C195.03,596.19 195.5,596.73 195.97,596.95 C196.45,597.18 196.91,597.3 197.4,597.4 C197.89,597.5 198.39,597.42 198.89,597.57 C199.39,597.72 199.88,598.14 200.38,598.31 C200.88,598.48 201.37,598.48 201.87,598.59 C202.37,598.7 202.86,598.79 203.36,598.99 C203.86,599.19 204.35,599.56 204.85,599.77 C205.35,599.97 205.84,599.99 206.34,600.22 C206.84,600.44 207.33,600.94 207.83,601.12 C208.33,601.29 208.82,601.1 209.32,601.25 C209.82,601.41 210.31,601.94 210.81,602.05 C211.31,602.16 211.81,601.79 212.3,601.9 C212.8,602.01 213.29,602.48 213.78,602.69 C214.27,602.9 214.77,603.11 215.26,603.17 C215.75,603.22 216.25,603.11 216.74,603.01 C217.23,602.91 217.73,602.45 218.22,602.59 C218.71,602.73 219.21,603.57 219.7,603.85 C220.19,604.14 220.69,604.18 221.18,604.29 C221.67,604.4 222.17,604.49 222.66,604.5 C223.15,604.5 223.65,604.26 224.14,604.32 C224.63,604.37 225.13,604.73 225.62,604.81 C226.11,604.89 226.61,604.83 227.1,604.8 C227.59,604.77 228.09,604.48 228.58,604.64 C229.07,604.79 229.57,605.58 230.06,605.74 C230.55,605.91 231.05,605.67 231.54,605.62 C232.03,605.58 232.53,605.4 233.02,605.46 C233.51,605.52 234.01,605.97 234.5,606 C234.99,606.03 235.49,605.47 235.98,605.64 C236.48,605.8 236.97,606.7 237.47,607 C237.96,607.3 238.46,607.53 238.95,607.44 C239.44,607.34 239.94,606.38 240.43,606.42 C240.93,606.46 241.42,607.49 241.92,607.67 C242.41,607.85 242.9,607.55 243.4,607.5 C243.9,607.45 244.4,607.46 244.9,607.37 C245.4,607.29 245.9,607.04 246.4,607.01 C246.9,606.98 247.4,607.07 247.9,607.21 C248.4,607.36 248.9,607.74 249.4,607.88 C249.9,608.01 250.4,608.08 250.9,608.02 C251.4,607.96 251.9,607.73 252.4,607.5 C252.9,607.27 253.39,606.7 253.88,606.66 C254.38,606.62 254.87,607.33 255.37,607.26 C255.86,607.19 256.36,606.31 256.85,606.26 C257.34,606.22 257.84,607.01 258.33,607.01 C258.83,607.01 259.32,606.38 259.82,606.26 C260.31,606.15 260.81,606.02 261.3,606.3 C261.79,606.58 262.28,607.47 262.77,607.96 C263.27,608.45 263.76,608.94 264.25,609.22 C264.74,609.51 265.23,609.42 265.73,609.68 C266.22,609.95 266.71,610.34 267.2,610.8 C267.69,611.26 268.18,612.16 268.68,612.42 C269.17,612.69 269.66,612.29 270.15,612.38 C270.64,612.48 271.13,612.63 271.62,612.98 C272.12,613.34 272.61,614.28 273.1,614.5 C273.59,614.72 274.09,614.5 274.58,614.27 C275.08,614.04 275.57,613.33 276.07,613.11 C276.56,612.89 277.06,613.01 277.55,612.98 C278.04,612.94 278.54,612.93 279.03,612.9 C279.53,612.88 280.02,612.92 280.52,612.82 C281.01,612.72 281.51,612.5 282,612.3 C282.49,612.1 282.96,611.78 283.44,611.6 C283.92,611.43 284.4,611.14 284.89,611.23 C285.37,611.33 285.85,612.18 286.33,612.17 C286.81,612.16 287.29,611.23 287.77,611.18 C288.25,611.13 288.73,611.81 289.21,611.87 C289.7,611.94 290.18,611.75 290.66,611.57 C291.14,611.39 291.86,610.93 292.1,610.8" fill="none" stroke="#868686" stroke-width="1.9" stroke-linejoin="round" stroke-linecap="round"/>
<path d="M56.2,521.3 C56.52,522.78 57.52,526.7 58.1,530.2 C58.68,533.7 58.88,542.43 59.7,542.3 C60.52,542.17 61.92,529.53 63,529.4 C64.08,529.27 65.13,538.4 66.2,541.5 C67.27,544.6 68.1,550.28 69.4,548 C70.7,545.72 72.78,528.07 74,527.8 C75.22,527.53 75.57,546.95 76.7,546.4 C77.83,545.85 79.72,524.77 80.8,524.5 C81.88,524.23 82.45,538.88 83.2,544.8 C83.95,550.72 84.35,555.58 85.3,560 C86.25,564.42 87.9,566.3 88.9,571.3 C89.9,576.3 90.48,585.27 91.3,590 C92.12,594.73 92.98,595.78 93.8,599.7 C94.62,603.62 95.53,610.8 96.2,613.5 C96.87,616.2 97.13,614.42 97.8,615.9 C98.47,617.38 99.25,620.65 100.2,622.4 C101.15,624.15 102.68,626.13 103.5,626.4 C104.32,626.67 104.57,623.18 105.1,624 C105.63,624.82 106.03,630.62 106.7,631.3 C107.37,631.98 108.42,627.97 109.1,628.1 C109.78,628.23 109.85,631.17 110.8,632.1 C111.75,633.03 113.73,632.88 114.8,633.7 C115.87,634.52 116.38,637.13 117.2,637 C118.02,636.87 118.88,633.32 119.7,632.9 C120.52,632.48 120.75,634.42 122.1,634.5 C123.45,634.58 126.58,632.98 127.8,633.4 C129.02,633.82 128.73,637.22 129.4,637 C130.07,636.78 130.85,631.83 131.8,632.1 C132.75,632.37 133.75,637.65 135.1,638.6 C136.45,639.55 138.28,638.2 139.9,637.8 C141.52,637.4 143.45,636.2 144.8,636.2 C146.15,636.2 147.07,638.27 148,637.8 C148.93,637.33 149.67,633 150.4,633.4 C151.13,633.8 151.72,639.73 152.4,640.2 C153.08,640.67 153.62,636.6 154.5,636.2 C155.38,635.8 156.75,638.22 157.7,637.8 C158.65,637.38 159.38,633.83 160.2,633.7 C161.02,633.57 161.38,636.23 162.6,637 C163.82,637.77 166.15,640.87 167.5,638.3 C168.85,635.73 169.77,625.2 170.7,621.6 C171.63,618 172.15,616.3 173.1,616.7 C174.05,617.1 175.45,622.65 176.4,624 C177.35,625.35 177.87,626.55 178.8,624.8 C179.73,623.05 180.78,615.3 182,613.5 C183.22,611.7 185.15,613.2 186.1,614 C187.05,614.8 187.03,618.12 187.7,618.3 C188.37,618.48 189.35,615.23 190.1,615.1 C190.85,614.97 191.47,616.37 192.2,617.5 C192.93,618.63 193.63,621.42 194.5,621.9 C195.37,622.38 196.3,620.4 197.4,620.4 C198.5,620.4 199.87,621.15 201.1,621.9 C202.33,622.65 203.55,625.02 204.8,624.9 C206.05,624.78 207.35,621.45 208.6,621.2 C209.85,620.95 211.07,623.28 212.3,623.4 C213.53,623.52 215.02,620.78 216,621.9 C216.98,623.02 217.58,630.35 218.2,630.1 C218.82,629.85 219.2,621.15 219.7,620.4 C220.2,619.65 220.22,624.98 221.2,625.6 C222.18,626.22 223.87,624.22 225.6,624.1 C227.33,623.98 229.87,624.9 231.6,624.9 C233.33,624.9 234.77,624.52 236,624.1 C237.23,623.68 238,622.2 239,622.4 C240,622.6 241.02,624.63 242,625.3 C242.98,625.97 244.03,627.33 244.9,626.4 C245.77,625.47 246.45,619.83 247.2,619.7 C247.95,619.57 248.3,624.82 249.4,625.6 C250.5,626.38 252.57,624.4 253.8,624.4 C255.03,628 255.93,644.77 256.8,647.2 C257.67,647.2 258.02,640.5 259,639 C259.98,637.5 261.33,637.95 262.7,638.2 C264.07,638.45 266.2,640.73 267.2,640.5 C268.2,640.27 268.2,636.43 268.7,636.8 C269.2,637.17 269.58,642.63 270.2,642.7 C270.82,642.77 271.67,637.45 272.4,637.2 C273.13,636.95 273.73,641.52 274.6,641.2 C275.47,640.88 276.6,635.42 277.6,635.3 C278.6,635.18 279.37,640.02 280.6,640.5 C281.83,640.98 283.65,638.82 285,638.2 C286.35,637.58 287.52,637.03 288.7,636.8 C289.88,636.57 291.53,636.8 292.1,636.8" fill="none" stroke="#111" stroke-width="2.2" stroke-linejoin="round" stroke-linecap="round"/>
<text x="384" y="499.3" text-anchor="start" font-size="18" font-weight="bold" fill="#111" >f</text>
<text transform="translate(392.4,650.1) rotate(-90)" text-anchor="start" font-size="13.6" fill="#1e1e1e">intra cellular O<tspan font-size="9.79" dy="2.99">2</tspan><tspan dy="-2.99"></tspan> [µM]</text>
<rect x="385.2" y="511.8" width="8.9" height="11.6" fill="#454545"/>
<line x1="436.8" y1="506.9" x2="436.8" y2="650.7" stroke="#161616" stroke-width="1.6"/>
<line x1="433.6" y1="649.9" x2="436.8" y2="649.9" stroke="#161616" stroke-width="1.4"/>
<text x="429.5" y="654.47" text-anchor="end" font-size="13.6" font-weight="normal" fill="#1e1e1e" >0</text>
<line x1="433.6" y1="622.6" x2="436.8" y2="622.6" stroke="#161616" stroke-width="1.4"/>
<text x="429.5" y="627.17" text-anchor="end" font-size="13.6" font-weight="normal" fill="#1e1e1e" >50</text>
<line x1="433.6" y1="596.5" x2="436.8" y2="596.5" stroke="#161616" stroke-width="1.4"/>
<text x="429.5" y="601.07" text-anchor="end" font-size="13.6" font-weight="normal" fill="#1e1e1e" >100</text>
<line x1="433.6" y1="570.2" x2="436.8" y2="570.2" stroke="#161616" stroke-width="1.4"/>
<text x="429.5" y="574.77" text-anchor="end" font-size="13.6" font-weight="normal" fill="#1e1e1e" >150</text>
<line x1="433.6" y1="543.8" x2="436.8" y2="543.8" stroke="#161616" stroke-width="1.4"/>
<text x="429.5" y="548.37" text-anchor="end" font-size="13.6" font-weight="normal" fill="#1e1e1e" >200</text>
<line x1="433.6" y1="517.9" x2="436.8" y2="517.9" stroke="#161616" stroke-width="1.4"/>
<text x="429.5" y="522.47" text-anchor="end" font-size="13.6" font-weight="normal" fill="#1e1e1e" >250</text>
<line x1="436" y1="649.9" x2="670.8" y2="649.9" stroke="#161616" stroke-width="1.6"/>
<line x1="436.8" y1="649.9" x2="436.8" y2="653.1" stroke="#161616" stroke-width="1.4"/>
<line x1="492.4" y1="649.9" x2="492.4" y2="653.1" stroke="#161616" stroke-width="1.4"/>
<line x1="550.3" y1="649.9" x2="550.3" y2="653.1" stroke="#161616" stroke-width="1.4"/>
<line x1="608.1" y1="649.9" x2="608.1" y2="653.1" stroke="#161616" stroke-width="1.4"/>
<line x1="436.8" y1="649.9" x2="436.8" y2="653.5" stroke="#161616" stroke-width="1.6"/>
<line x1="670" y1="517" x2="670" y2="650.7" stroke="#161616" stroke-width="1.6"/>
<line x1="670" y1="649.9" x2="673.2" y2="649.9" stroke="#161616" stroke-width="1.4"/>
<text x="678.8" y="654.67" text-anchor="start" font-size="13.6" font-weight="normal" fill="#1e1e1e" >0</text>
<line x1="670" y1="594.1" x2="673.2" y2="594.1" stroke="#161616" stroke-width="1.4"/>
<text x="678.8" y="598.87" text-anchor="start" font-size="13.6" font-weight="normal" fill="#1e1e1e" >50</text>
<line x1="670" y1="536.8" x2="673.2" y2="536.8" stroke="#161616" stroke-width="1.4"/>
<text x="678.8" y="541.57" text-anchor="start" font-size="13.6" font-weight="normal" fill="#1e1e1e" >100</text>
<text transform="translate(727.3,513.4) rotate(90)" text-anchor="start" font-size="13.6" fill="#1e1e1e">TMRM Average Intensity</text>
<text transform="translate(711.8,516) rotate(90)" text-anchor="start" font-size="13.6" fill="#1e1e1e">(Normalized to Baseline)</text>
<rect x="712.9" y="500.3" width="9.6" height="10.7" fill="#aaaaaa"/>
<rect x="442.8" y="548" width="22.2" height="101.9" fill="#464646"/>
<line x1="454" y1="547.6" x2="454" y2="548" stroke="#666" stroke-width="1.1"/>
<line x1="451.8" y1="547.6" x2="456.2" y2="547.6" stroke="#666" stroke-width="1.1"/>
<line x1="451.8" y1="548" x2="456.2" y2="548" stroke="#666" stroke-width="1.1"/>
<rect x="467" y="535.9" width="21.2" height="114" fill="#ababab"/>
<line x1="477.7" y1="532" x2="477.7" y2="539" stroke="#111" stroke-width="1.5"/>
<line x1="475" y1="532" x2="480.4" y2="532" stroke="#111" stroke-width="1.5"/>
<line x1="475" y1="539" x2="480.4" y2="539" stroke="#111" stroke-width="1.5"/>
<rect x="500.4" y="637.2" width="23.1" height="12.7" fill="#464646"/>
<line x1="511.7" y1="632.7" x2="511.7" y2="637.5" stroke="#111" stroke-width="1.5"/>
<line x1="509" y1="632.7" x2="514.4" y2="632.7" stroke="#111" stroke-width="1.5"/>
<line x1="509" y1="637.5" x2="514.4" y2="637.5" stroke="#111" stroke-width="1.5"/>
<text x="511.7" y="627.1" text-anchor="middle" font-size="20" font-weight="bold" fill="#1e1e1e" >#</text>
<rect x="524.5" y="543.6" width="21.6" height="106.3" fill="#ababab"/>
<line x1="534.9" y1="537.7" x2="534.9" y2="549.7" stroke="#111" stroke-width="1.5"/>
<line x1="532.2" y1="537.7" x2="537.6" y2="537.7" stroke="#111" stroke-width="1.5"/>
<line x1="532.2" y1="549.7" x2="537.6" y2="549.7" stroke="#111" stroke-width="1.5"/>
<rect x="558.6" y="617.3" width="22.8" height="32.6" fill="#464646"/>
<line x1="570" y1="612" x2="570" y2="617.6" stroke="#111" stroke-width="1.5"/>
<line x1="567.3" y1="612" x2="572.7" y2="612" stroke="#111" stroke-width="1.5"/>
<line x1="567.3" y1="617.6" x2="572.7" y2="617.6" stroke="#111" stroke-width="1.5"/>
<text x="570.1" y="598.9" text-anchor="middle" font-size="20" font-weight="bold" fill="#1e1e1e" >#</text>
<rect x="582.9" y="574" width="21.8" height="75.9" fill="#ababab"/>
<line x1="593" y1="568.5" x2="593" y2="578.2" stroke="#111" stroke-width="1.5"/>
<line x1="590.3" y1="568.5" x2="595.7" y2="568.5" stroke="#111" stroke-width="1.5"/>
<line x1="590.3" y1="578.2" x2="595.7" y2="578.2" stroke="#111" stroke-width="1.5"/>
<text x="592.6" y="564.3" text-anchor="middle" font-size="17.5" font-weight="normal" fill="#1e1e1e" >*</text>
<rect x="616.6" y="648.3" width="23.5" height="1.6" fill="#464646"/>
<line x1="628.3" y1="640.2" x2="628.3" y2="655.6" stroke="#9a9a9a" stroke-width="1.5"/>
<line x1="625.6" y1="640.2" x2="631" y2="640.2" stroke="#9a9a9a" stroke-width="1.5"/>
<line x1="625.6" y1="655.6" x2="631" y2="655.6" stroke="#9a9a9a" stroke-width="1.5"/>
<text x="628.5" y="623.7" text-anchor="middle" font-size="20" font-weight="bold" fill="#1e1e1e" >#</text>
<rect x="641.3" y="584.3" width="21.5" height="65.6" fill="#ababab"/>
<line x1="651.6" y1="580.2" x2="651.6" y2="588.6" stroke="#111" stroke-width="1.5"/>
<line x1="648.9" y1="580.2" x2="654.3" y2="580.2" stroke="#111" stroke-width="1.5"/>
<line x1="648.9" y1="588.6" x2="654.3" y2="588.6" stroke="#111" stroke-width="1.5"/>
<text x="651.6" y="573.8" text-anchor="middle" font-size="17.5" font-weight="normal" fill="#1e1e1e" >*</text>
<text transform="translate(477.5,664) rotate(-45)" text-anchor="end" font-size="13.6" fill="#1e1e1e">20%O<tspan font-size="9.79" dy="2.99">2</tspan><tspan dy="-2.99"></tspan></text>
<text transform="translate(531.5,662.5) rotate(-45)" text-anchor="end" font-size="13.6" fill="#1e1e1e">5%O<tspan font-size="9.79" dy="2.99">2</tspan><tspan dy="-2.99"></tspan></text>
<text transform="translate(588.5,663) rotate(-45)" text-anchor="end" font-size="13.6" fill="#1e1e1e">NaN<tspan font-size="9.79" dy="2.99">3</tspan><tspan dy="-2.99"></tspan></text>
<text transform="translate(647.5,663.5) rotate(-45)" text-anchor="end" font-size="13.6" fill="#1e1e1e">Glucose</text>
<text transform="translate(657,673) rotate(-45)" text-anchor="end" font-size="13.6" fill="#1e1e1e">Oxidase</text>
<text x="1.6" y="742.1" text-anchor="start" font-size="18" font-weight="bold" fill="#111" >g</text>
<text transform="translate(11.6,894.5) rotate(-90)" text-anchor="start" font-size="13.6" fill="#1e1e1e">intra cellular O<tspan font-size="9.79" dy="2.99">2</tspan><tspan dy="-2.99"></tspan> [µM]</text>
<rect x="5.8" y="759.9" width="8.9" height="11.6" fill="#141414"/>
<line x1="56.7" y1="755" x2="56.7" y2="901.8" stroke="#161616" stroke-width="1.6"/>
<line x1="53.5" y1="896.3" x2="56.7" y2="896.3" stroke="#161616" stroke-width="1.4"/>
<text x="49" y="900.87" text-anchor="end" font-size="13.6" font-weight="normal" fill="#1e1e1e" >0</text>
<line x1="53.5" y1="869.3" x2="56.7" y2="869.3" stroke="#161616" stroke-width="1.4"/>
<text x="49" y="873.87" text-anchor="end" font-size="13.6" font-weight="normal" fill="#1e1e1e" >50</text>
<line x1="53.5" y1="842.3" x2="56.7" y2="842.3" stroke="#161616" stroke-width="1.4"/>
<text x="49" y="846.87" text-anchor="end" font-size="13.6" font-weight="normal" fill="#1e1e1e" >100</text>
<line x1="53.5" y1="815.3" x2="56.7" y2="815.3" stroke="#161616" stroke-width="1.4"/>
<text x="49" y="819.87" text-anchor="end" font-size="13.6" font-weight="normal" fill="#1e1e1e" >150</text>
<line x1="53.5" y1="788.3" x2="56.7" y2="788.3" stroke="#161616" stroke-width="1.4"/>
<text x="49" y="792.87" text-anchor="end" font-size="13.6" font-weight="normal" fill="#1e1e1e" >200</text>
<line x1="53.5" y1="761.6" x2="56.7" y2="761.6" stroke="#161616" stroke-width="1.4"/>
<text x="49" y="766.17" text-anchor="end" font-size="13.6" font-weight="normal" fill="#1e1e1e" >250</text>
<line x1="55.9" y1="896.3" x2="291.5" y2="896.3" stroke="#161616" stroke-width="1.6"/>
<line x1="56.8" y1="896.3" x2="56.8" y2="899.3" stroke="#161616" stroke-width="1.4"/>
<line x1="111.1" y1="896.3" x2="111.1" y2="899.3" stroke="#161616" stroke-width="1.4"/>
<line x1="165.2" y1="896.3" x2="165.2" y2="899.3" stroke="#161616" stroke-width="1.4"/>
<line x1="219.4" y1="896.3" x2="219.4" y2="899.3" stroke="#161616" stroke-width="1.4"/>
<line x1="273.2" y1="896.3" x2="273.2" y2="899.3" stroke="#161616" stroke-width="1.4"/>
<text x="56.8" y="918.8" text-anchor="middle" font-size="13.6" font-weight="normal" fill="#1e1e1e" >0</text>
<text x="111.1" y="918.8" text-anchor="middle" font-size="13.6" font-weight="normal" fill="#1e1e1e" >30</text>
<text x="165.2" y="918.8" text-anchor="middle" font-size="13.6" font-weight="normal" fill="#1e1e1e" >60</text>
<text x="219.4" y="918.8" text-anchor="middle" font-size="13.6" font-weight="normal" fill="#1e1e1e" >90</text>
<text x="273.2" y="918.8" text-anchor="middle" font-size="13.6" font-weight="normal" fill="#1e1e1e" >120</text>
<text x="173.5" y="937.4" text-anchor="middle" font-size="13.6" font-weight="normal" fill="#1e1e1e" >Time [min]</text>
<line x1="290.7" y1="762.3" x2="290.7" y2="901.8" stroke="#161616" stroke-width="1.6"/>
<line x1="290.7" y1="886.5" x2="293.9" y2="886.5" stroke="#161616" stroke-width="1.4"/>
<text x="299.1" y="891.27" text-anchor="start" font-size="13.6" font-weight="normal" fill="#1e1e1e" >25</text>
<line x1="290.7" y1="855.8" x2="293.9" y2="855.8" stroke="#161616" stroke-width="1.4"/>
<text x="299.1" y="860.57" text-anchor="start" font-size="13.6" font-weight="normal" fill="#1e1e1e" >50</text>
<line x1="290.7" y1="823.8" x2="293.9" y2="823.8" stroke="#161616" stroke-width="1.4"/>
<text x="299.1" y="828.57" text-anchor="start" font-size="13.6" font-weight="normal" fill="#1e1e1e" >75</text>
<line x1="290.7" y1="792.1" x2="293.9" y2="792.1" stroke="#161616" stroke-width="1.4"/>
<text x="299.1" y="796.87" text-anchor="start" font-size="13.6" font-weight="normal" fill="#1e1e1e" >100</text>
<text transform="translate(349.2,762.3) rotate(90)" text-anchor="start" font-size="13.6" fill="#1e1e1e">TMRM Average Intensity</text>
<text transform="translate(332.3,765.4) rotate(90)" text-anchor="start" font-size="13.6" fill="#1e1e1e">(Normalized to Baseline)</text>
<rect x="333.1" y="750.9" width="9.5" height="10.4" fill="#8a8a8a"/>
<line x1="233.2" y1="749.6" x2="233.2" y2="762.5" stroke="#cbcbcb" stroke-width="1.8"/>
<line x1="233.2" y1="755" x2="279.5" y2="755" stroke="#cbcbcb" stroke-width="1.8"/>
<polygon points="278.5,750 290.4,755 278.5,760" fill="#cbcbcb"/>
<line x1="185.2" y1="759.3" x2="185.2" y2="772.9" stroke="#111" stroke-width="1.8"/>
<line x1="185.2" y1="766.2" x2="279.5" y2="766.2" stroke="#111" stroke-width="1.8"/>
<polygon points="278.5,761.8 289.5,766.2 278.5,770.6" fill="#111"/>
<line x1="81.3" y1="771" x2="81.3" y2="781" stroke="#bdbdbd" stroke-width="1.3"/>
<line x1="81.3" y1="775" x2="279.8" y2="775" stroke="#8e8e8e" stroke-width="2.1"/>
<polygon points="278.8,770.5 290,775 278.8,779.5" fill="#8e8e8e"/>
<text x="190" y="758.2" text-anchor="start" font-size="13.6" font-weight="normal" fill="#1e1e1e" >AA</text>
<text x="238.6" y="748.6" text-anchor="start" font-size="13.6" font-weight="normal" fill="#1e1e1e" >GOX</text>
<text x="84.4" y="770.8" text-anchor="start" font-size="13.6" font-weight="normal" fill="#1e1e1e" >5%O<tspan font-size="9.79" dy="2.99">2</tspan><tspan dy="-2.99"></tspan></text>
<path d="M56.8,792.7 C57.06,792.73 57.83,792.82 58.35,792.87 C58.87,792.93 59.38,793 59.9,793.04 C60.42,793.08 60.93,793.17 61.45,793.11 C61.97,793.06 62.48,792.7 63,792.7 C63.52,792.7 64.07,793.13 64.6,793.12 C65.13,793.11 65.67,792.71 66.2,792.64 C66.73,792.56 67.27,792.81 67.8,792.69 C68.33,792.57 68.86,792.17 69.4,791.9 C69.94,791.63 70.48,791.14 71.02,791.08 C71.56,791.02 72.1,791.37 72.64,791.53 C73.18,791.69 73.72,792.05 74.26,792.04 C74.8,792.03 75.34,791.63 75.88,791.47 C76.42,791.31 76.96,790.97 77.5,791.1 C78.04,791.23 78.58,792.15 79.12,792.26 C79.67,792.37 80.21,791.66 80.75,791.76 C81.29,791.86 81.83,792.57 82.38,792.86 C82.92,793.15 83.46,793.48 84,793.5 C84.54,793.52 85.08,793.03 85.62,792.99 C86.16,792.94 86.7,793.22 87.24,793.24 C87.78,793.26 88.32,793.3 88.86,793.12 C89.4,792.95 89.94,792.25 90.48,792.18 C91.02,792.11 91.56,792.78 92.1,792.7 C92.64,792.62 93.18,791.94 93.72,791.68 C94.27,791.42 94.81,791.19 95.35,791.14 C95.89,791.1 96.43,791.56 96.97,791.41 C97.52,791.25 98.06,790.37 98.6,790.2 C99.14,790.03 99.68,790.54 100.22,790.41 C100.76,790.28 101.3,789.45 101.84,789.4 C102.38,789.36 102.92,790.19 103.46,790.14 C104,790.08 104.54,789.18 105.08,789.05 C105.62,788.93 106.16,789.39 106.7,789.4 C107.24,789.41 107.78,789.33 108.32,789.08 C108.86,788.84 109.4,788.22 109.94,787.92 C110.48,787.61 111.02,787.25 111.56,787.26 C112.1,787.28 112.64,788.04 113.18,788 C113.72,787.96 114.26,787.26 114.8,787 C115.34,786.74 115.88,786.55 116.42,786.43 C116.96,786.31 117.5,786.15 118.04,786.28 C118.58,786.41 119.12,787.1 119.66,787.2 C120.2,787.3 120.74,787.05 121.28,786.88 C121.82,786.72 122.36,786.54 122.9,786.2 C123.44,785.86 123.97,785.09 124.5,784.84 C125.03,784.59 125.57,785.02 126.1,784.71 C126.63,784.41 127.16,783.31 127.7,783 C128.24,782.69 128.78,782.89 129.32,782.87 C129.86,782.86 130.4,783.03 130.94,782.89 C131.48,782.75 132.02,782.05 132.56,782.05 C133.1,782.05 133.64,782.89 134.18,782.9 C134.72,782.91 135.26,782.23 135.8,782.1 C136.34,781.97 136.89,782.08 137.43,782.1 C137.98,782.12 138.52,782.35 139.07,782.22 C139.61,782.09 140.16,781.39 140.7,781.3 C141.24,781.21 141.78,781.76 142.32,781.65 C142.87,781.54 143.41,780.81 143.95,780.62 C144.49,780.43 145.03,780.53 145.57,780.51 C146.12,780.49 146.66,780.49 147.2,780.5 C147.74,780.51 148.27,780.47 148.8,780.57 C149.33,780.66 149.87,780.81 150.4,781.07 C150.93,781.33 151.46,782.03 152,782.1 C152.54,782.17 153.09,781.54 153.63,781.49 C154.18,781.44 154.72,781.72 155.27,781.82 C155.81,781.92 156.36,781.96 156.9,782.1 C157.44,782.24 157.98,782.64 158.53,782.67 C159.07,782.7 159.61,782.1 160.15,782.25 C160.69,782.41 161.23,783.37 161.78,783.62 C162.32,783.88 162.85,783.96 163.4,783.8 C163.95,783.64 164.5,783 165.05,782.65 C165.6,782.3 166.15,781.88 166.7,781.68 C167.25,781.49 167.8,781.73 168.35,781.47 C168.9,781.21 169.44,780.14 170,780.1 C170.56,780.06 171.13,780.87 171.7,781.21 C172.27,781.54 172.83,781.73 173.4,782.11 C173.97,782.49 174.54,783.27 175.1,783.5 C175.66,783.73 176.22,783.43 176.78,783.47 C177.33,783.52 177.89,783.89 178.45,783.79 C179.01,783.69 179.57,782.93 180.12,782.88 C180.68,782.83 181.24,783.36 181.8,783.5 C182.36,783.64 182.93,783.97 183.5,783.7 C184.07,783.43 184.63,782.17 185.2,781.9 C185.77,781.63 186.2,781.83 186.9,782.1 C187.6,782.37 188.57,781.58 189.4,783.5 C190.23,785.42 191.05,792.33 191.9,793.6 C192.75,794.87 193.65,790.95 194.5,791.1 C195.35,791.25 196.17,791.55 197,794.5 C197.83,797.45 198.65,803.88 199.5,808.8 C200.35,813.72 201.25,818.93 202.1,824 C202.95,829.07 203.9,836.26 204.6,839.2 C205.3,842.14 205.73,840.95 206.3,841.65 C206.87,842.35 207.47,842.89 208,843.4 C208.53,843.91 209,844.56 209.5,844.72 C210,844.89 210.5,844.14 211,844.41 C211.5,844.67 212,845.96 212.5,846.32 C213,846.68 213.5,846.36 214,846.57 C214.5,846.79 214.97,847.34 215.5,847.6 C216.03,847.86 216.63,848.11 217.2,848.13 C217.77,848.16 218.33,847.75 218.9,847.76 C219.47,847.78 220.03,847.98 220.6,848.24 C221.17,848.5 221.74,849.21 222.3,849.3 C222.86,849.39 223.42,848.68 223.98,848.75 C224.53,848.83 225.09,849.77 225.65,849.74 C226.21,849.71 226.77,848.71 227.32,848.58 C227.88,848.44 228.48,848.73 229,848.9 C229.52,849.07 229.94,849.39 230.42,849.61 C230.89,849.82 231.36,850.04 231.83,850.2 C232.31,850.36 232.78,850.59 233.25,850.57 C233.72,850.55 234.19,850.1 234.67,850.08 C235.14,850.06 235.61,850.29 236.08,850.45 C236.56,850.6 237.03,850.93 237.5,851 C237.97,851.07 238.43,850.87 238.9,850.88 C239.37,850.9 239.83,851.23 240.3,851.09 C240.77,850.94 241.23,850.06 241.7,850 C242.17,849.94 242.63,850.64 243.1,850.75 C243.57,850.86 244.03,850.77 244.5,850.67 C244.97,850.56 245.43,850.13 245.9,850.1 C246.37,850.07 246.83,850.62 247.3,850.47 C247.77,850.32 248.23,849.21 248.7,849.18 C249.17,849.16 249.63,850.36 250.1,850.32 C250.57,850.29 251.03,849.18 251.5,848.99 C251.97,848.81 252.43,849.16 252.9,849.21 C253.37,849.26 253.82,849.38 254.3,849.3 C254.78,849.22 255.27,848.87 255.76,848.73 C256.24,848.58 256.73,848.73 257.21,848.43 C257.7,848.12 258.19,847.13 258.67,846.89 C259.16,846.65 259.64,847.17 260.13,846.98 C260.61,846.78 261.1,846.11 261.59,845.72 C262.07,845.33 262.56,844.92 263.04,844.67 C263.53,844.41 264.02,844.26 264.5,844.2 C264.98,844.14 265.46,844.27 265.94,844.31 C266.42,844.36 266.9,844.42 267.39,844.49 C267.87,844.56 268.35,844.61 268.83,844.72 C269.31,844.84 269.79,844.93 270.27,845.19 C270.75,845.46 271.23,846 271.71,846.32 C272.2,846.64 272.68,847.04 273.16,847.12 C273.64,847.2 274.12,846.91 274.6,846.8 C275.08,846.69 275.57,846.53 276.05,846.47 C276.54,846.41 277.02,846.22 277.51,846.46 C277.99,846.7 278.48,847.76 278.96,847.92 C279.45,848.08 279.93,847.52 280.42,847.43 C280.9,847.34 281.39,847.42 281.87,847.4 C282.36,847.37 282.84,847.21 283.33,847.3 C283.81,847.4 284.3,847.76 284.78,847.95 C285.27,848.14 285.75,848.4 286.24,848.42 C286.72,848.44 287.21,848.09 287.69,848.05 C288.18,848 288.66,848.09 289.15,848.15 C289.63,848.2 290.36,848.36 290.6,848.4" fill="none" stroke="#868686" stroke-width="1.9" stroke-linejoin="round" stroke-linecap="round"/>
<path d="M56.8,789.4 C56.97,790.88 57.45,798.43 57.8,798.3 C58.15,798.17 58.45,790.08 58.9,788.6 C59.35,787.12 59.88,790.2 60.5,789.4 C61.12,788.6 61.97,783.52 62.6,783.8 C63.23,784.08 63.7,789.62 64.3,791.1 C64.9,792.58 65.57,792.03 66.2,792.7 C66.83,793.37 67.57,793.48 68.1,795.1 C68.63,796.72 68.9,802.13 69.4,802.4 C69.9,802.67 70.55,796.57 71.1,796.7 C71.65,796.83 72.17,802.38 72.7,803.2 C73.23,804.02 73.63,804.7 74.3,801.6 C74.97,798.5 75.95,783.93 76.7,784.6 C77.45,785.27 78.12,802.5 78.8,805.6 C79.48,808.7 80.07,802.52 80.8,803.2 C81.53,803.88 82.4,806.6 83.2,809.7 C84,812.8 84.87,817.22 85.6,821.8 C86.33,826.38 86.92,835.03 87.6,837.2 C88.28,839.37 89.13,832.1 89.7,834.8 C90.27,837.5 90.35,849.9 91,853.4 C91.65,856.9 92.75,855.6 93.6,855.8 C94.45,856 95.28,853.68 96.1,854.6 C96.92,855.52 97.8,860.9 98.5,861.3 C99.2,861.7 99.38,855.8 100.3,857 C101.22,858.2 103.08,867.18 104,868.5 C104.92,869.82 104.9,865.1 105.8,864.9 C106.7,864.7 108.48,865.48 109.4,867.3 C110.32,869.12 110.28,874.48 111.3,875.8 C112.32,877.12 114.3,876.3 115.5,875.2 C116.7,874.1 117.48,868.38 118.5,869.2 C119.52,870.02 120.68,879.5 121.6,880.1 C122.52,880.7 123.1,872.2 124,872.8 C124.9,873.4 125.88,882.68 127,883.7 C128.12,884.72 129.58,880.12 130.7,878.9 C131.82,877.68 132.78,876.1 133.7,876.4 C134.62,876.7 135.38,880.18 136.2,880.7 C137.02,881.22 137.8,879 138.6,879.5 C139.4,880 139.68,882.28 141,883.7 C142.32,885.12 145.18,887.7 146.5,888 C147.82,888.3 148,885.6 148.9,885.5 C149.8,885.4 150.58,887.4 151.9,887.4 C153.22,887.4 155.58,886.32 156.8,885.5 C158.02,884.68 158.38,881.38 159.2,882.5 C160.02,883.62 160.48,891.9 161.7,892.2 C162.92,892.5 165.08,885.82 166.5,884.3 C167.92,882.78 168.77,882.05 170.2,883.1 C171.63,884.15 173.73,889.77 175.1,890.6 C176.47,891.43 177,889.22 178.4,888.1 C179.8,886.98 181.95,883.33 183.5,883.9 C185.05,884.47 186.3,892.63 187.7,891.5 C189.1,890.37 190.5,881.18 191.9,877.1 C193.3,873.02 194.97,867.7 196.1,867 C197.23,866.3 197.7,874.3 198.7,872.9 C199.7,871.5 200.98,860.98 202.1,858.6 C203.22,856.22 204.15,856.5 205.4,858.6 C206.65,860.7 208.18,870.08 209.6,871.2 C211.02,872.32 212.77,867.97 213.9,865.3 C215.03,862.63 215.28,853.37 216.4,855.2 C217.52,857.03 219.05,873.48 220.6,876.3 C222.15,879.12 224.3,875.2 225.7,872.1 C227.1,869 228.02,856.72 229,857.7 C229.98,858.68 230.75,875.75 231.6,878 C232.45,880.25 233.12,871.77 234.1,871.2 C235.08,870.63 236.52,870.52 237.5,874.6 C238.48,878.68 239.17,893.45 240,895.7 C240.83,897.95 241.23,890.63 242.5,888.1 C243.77,885.57 245.77,881.77 247.6,880.5 C249.43,879.23 252.1,879.65 253.5,880.5 C254.9,881.35 254.73,885.32 256,885.6 C257.27,885.88 259.4,882.07 261.1,882.2 C262.8,882.33 264.37,886.55 266.2,886.4 C268.03,886.25 270.28,882.98 272.1,881.3 C273.92,879.62 275.83,875.87 277.1,876.3 C278.37,876.73 278.15,882.35 279.7,883.9 C281.25,885.45 284.58,885.47 286.4,885.6 C288.22,885.73 289.9,884.85 290.6,884.7" fill="none" stroke="#111" stroke-width="2.2" stroke-linejoin="round" stroke-linecap="round"/>
<text x="385.4" y="742.3" text-anchor="start" font-size="18" font-weight="bold" fill="#111" >h</text>
<text transform="translate(392.8,901.9) rotate(-90)" text-anchor="start" font-size="13.6" fill="#1e1e1e">intra cellular O<tspan font-size="9.79" dy="2.99">2</tspan><tspan dy="-2.99"></tspan> [µM]</text>
<rect x="383.9" y="762.2" width="9.1" height="11.7" fill="#454545"/>
<line x1="437.6" y1="762.3" x2="437.6" y2="897.6" stroke="#161616" stroke-width="1.6"/>
<line x1="434.4" y1="896.8" x2="437.6" y2="896.8" stroke="#161616" stroke-width="1.4"/>
<text x="429.5" y="901.37" text-anchor="end" font-size="13.6" font-weight="normal" fill="#1e1e1e" >0</text>
<line x1="434.4" y1="872.1" x2="437.6" y2="872.1" stroke="#161616" stroke-width="1.4"/>
<text x="429.5" y="876.67" text-anchor="end" font-size="13.6" font-weight="normal" fill="#1e1e1e" >50</text>
<line x1="434.4" y1="847.3" x2="437.6" y2="847.3" stroke="#161616" stroke-width="1.4"/>
<text x="429.5" y="851.87" text-anchor="end" font-size="13.6" font-weight="normal" fill="#1e1e1e" >100</text>
<line x1="434.4" y1="822.5" x2="437.6" y2="822.5" stroke="#161616" stroke-width="1.4"/>
<text x="429.5" y="827.07" text-anchor="end" font-size="13.6" font-weight="normal" fill="#1e1e1e" >150</text>
<line x1="434.4" y1="797.6" x2="437.6" y2="797.6" stroke="#161616" stroke-width="1.4"/>
<text x="429.5" y="802.17" text-anchor="end" font-size="13.6" font-weight="normal" fill="#1e1e1e" >200</text>
<line x1="434.4" y1="772.8" x2="437.6" y2="772.8" stroke="#161616" stroke-width="1.4"/>
<text x="429.5" y="777.37" text-anchor="end" font-size="13.6" font-weight="normal" fill="#1e1e1e" >250</text>
<line x1="436.8" y1="896.8" x2="670.5" y2="896.8" stroke="#161616" stroke-width="1.6"/>
<line x1="437.6" y1="896.8" x2="437.6" y2="900" stroke="#161616" stroke-width="1.4"/>
<line x1="493.2" y1="896.8" x2="493.2" y2="900" stroke="#161616" stroke-width="1.4"/>
<line x1="551.1" y1="896.8" x2="551.1" y2="900" stroke="#161616" stroke-width="1.4"/>
<line x1="610" y1="896.8" x2="610" y2="900" stroke="#161616" stroke-width="1.4"/>
<line x1="437.6" y1="896.8" x2="437.6" y2="900.4" stroke="#161616" stroke-width="1.6"/>
<line x1="669.7" y1="763" x2="669.7" y2="897.6" stroke="#161616" stroke-width="1.6"/>
<line x1="669.7" y1="896.8" x2="672.9" y2="896.8" stroke="#161616" stroke-width="1.4"/>
<text x="677.3" y="901.57" text-anchor="start" font-size="13.6" font-weight="normal" fill="#1e1e1e" >0</text>
<line x1="669.7" y1="842.7" x2="672.9" y2="842.7" stroke="#161616" stroke-width="1.4"/>
<text x="677.3" y="847.47" text-anchor="start" font-size="13.6" font-weight="normal" fill="#1e1e1e" >50</text>
<line x1="669.7" y1="786.3" x2="672.9" y2="786.3" stroke="#161616" stroke-width="1.4"/>
<text x="677.3" y="791.07" text-anchor="start" font-size="13.6" font-weight="normal" fill="#1e1e1e" >100</text>
<text transform="translate(728.2,759.2) rotate(90)" text-anchor="start" font-size="13.6" fill="#1e1e1e">TMRM Average Intensity</text>
<text transform="translate(710.5,762) rotate(90)" text-anchor="start" font-size="13.6" fill="#1e1e1e">(Normalized to Baseline)</text>
<rect x="711.4" y="747.8" width="9.6" height="11.4" fill="#aaaaaa"/>
<rect x="443.8" y="793.1" width="22.4" height="103.7" fill="#464646"/>
<line x1="455" y1="792.6" x2="455" y2="793.1" stroke="#666" stroke-width="1.1"/>
<line x1="452.8" y1="792.6" x2="457.2" y2="792.6" stroke="#666" stroke-width="1.1"/>
<line x1="452.8" y1="793.1" x2="457.2" y2="793.1" stroke="#666" stroke-width="1.1"/>
<rect x="468" y="780.8" width="22" height="116" fill="#ababab"/>
<line x1="479.5" y1="777.7" x2="479.5" y2="783.6" stroke="#111" stroke-width="1.5"/>
<line x1="476.8" y1="777.7" x2="482.2" y2="777.7" stroke="#111" stroke-width="1.5"/>
<line x1="476.8" y1="783.6" x2="482.2" y2="783.6" stroke="#111" stroke-width="1.5"/>
<rect x="501.3" y="881.7" width="23.1" height="15.1" fill="#464646"/>
<line x1="513.1" y1="877.8" x2="513.1" y2="886.1" stroke="#111" stroke-width="1.5"/>
<line x1="510.4" y1="877.8" x2="515.8" y2="877.8" stroke="#111" stroke-width="1.5"/>
<line x1="510.4" y1="886.1" x2="515.8" y2="886.1" stroke="#111" stroke-width="1.5"/>
<text x="514.6" y="874.5" text-anchor="middle" font-size="20" font-weight="bold" fill="#1e1e1e" >#</text>
<rect x="525.9" y="782.3" width="22.3" height="114.5" fill="#ababab"/>
<line x1="536.7" y1="779" x2="536.7" y2="786.2" stroke="#111" stroke-width="1.5"/>
<line x1="534" y1="779" x2="539.4" y2="779" stroke="#111" stroke-width="1.5"/>
<line x1="534" y1="786.2" x2="539.4" y2="786.2" stroke="#111" stroke-width="1.5"/>
<rect x="558.6" y="852.9" width="23.4" height="43.9" fill="#464646"/>
<line x1="571" y1="846.9" x2="571" y2="857.9" stroke="#111" stroke-width="1.5"/>
<line x1="568.3" y1="846.9" x2="573.7" y2="846.9" stroke="#111" stroke-width="1.5"/>
<line x1="568.3" y1="857.9" x2="573.7" y2="857.9" stroke="#111" stroke-width="1.5"/>
<text x="571.5" y="845.5" text-anchor="middle" font-size="20" font-weight="bold" fill="#1e1e1e" >#</text>
<rect x="583.5" y="817.3" width="22.3" height="79.5" fill="#ababab"/>
<line x1="595" y1="813.4" x2="595" y2="820.8" stroke="#111" stroke-width="1.5"/>
<line x1="592.3" y1="813.4" x2="597.7" y2="813.4" stroke="#111" stroke-width="1.5"/>
<line x1="592.3" y1="820.8" x2="597.7" y2="820.8" stroke="#111" stroke-width="1.5"/>
<text x="594.5" y="810.1" text-anchor="middle" font-size="17.5" font-weight="normal" fill="#1e1e1e" >*</text>
<rect x="616.6" y="879.7" width="22.7" height="17.1" fill="#464646"/>
<line x1="628.3" y1="873.6" x2="628.3" y2="886.1" stroke="#111" stroke-width="1.5"/>
<line x1="625.6" y1="873.6" x2="631" y2="873.6" stroke="#111" stroke-width="1.5"/>
<line x1="625.6" y1="886.1" x2="631" y2="886.1" stroke="#111" stroke-width="1.5"/>
<text x="628.3" y="871.5" text-anchor="middle" font-size="20" font-weight="bold" fill="#1e1e1e" >#</text>
<rect x="640.7" y="828.7" width="22.6" height="68.1" fill="#ababab"/>
<line x1="652" y1="826" x2="652" y2="831" stroke="#111" stroke-width="1.5"/>
<line x1="649.3" y1="826" x2="654.7" y2="826" stroke="#111" stroke-width="1.5"/>
<line x1="649.3" y1="831" x2="654.7" y2="831" stroke="#111" stroke-width="1.5"/>
<text x="652" y="821.4" text-anchor="middle" font-size="17.5" font-weight="normal" fill="#1e1e1e" >*</text>
<text transform="translate(476.7,912.5) rotate(-45)" text-anchor="end" font-size="13.6" fill="#1e1e1e">20%O<tspan font-size="9.79" dy="2.99">2</tspan><tspan dy="-2.99"></tspan></text>
<text transform="translate(530.2,910.5) rotate(-45)" text-anchor="end" font-size="13.6" fill="#1e1e1e">5%O<tspan font-size="9.79" dy="2.99">2</tspan><tspan dy="-2.99"></tspan></text>
<text transform="translate(589.5,909.5) rotate(-45)" text-anchor="end" font-size="13.6" fill="#1e1e1e">Antimycin A</text>
<text transform="translate(644.5,910.3) rotate(-45)" text-anchor="end" font-size="13.6" fill="#1e1e1e">Glucose</text>
<text transform="translate(655.5,923) rotate(-45)" text-anchor="end" font-size="13.6" fill="#1e1e1e">Oxidase</text>
</svg></body></html>
